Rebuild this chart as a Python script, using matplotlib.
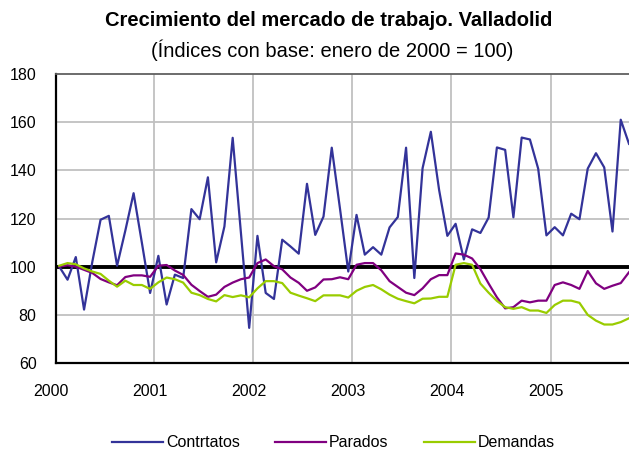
import matplotlib
matplotlib.use("Agg")
import matplotlib.pyplot as plt
import numpy as np

plt.rcParams['font.family'] = ['Liberation Sans', 'DejaVu Sans']

# monthly index, january 2000 = 100 (jan 2000 .. oct 2005)
contratos = [100, 94.6, 104, 82.2, 102, 119.5, 121.1, 100.4, 115, 130.5, 110, 89.1,
             104.5, 84.3, 96.7, 95.3, 123.9, 119.7, 137.1, 101.8, 116.7, 153.5, 114, 74.6,
             112.8, 89.1, 86.6, 111.2, 108.4, 105.4, 134.4, 113.2, 120.8, 149.4, 124, 98,
             121.5, 105, 108.1, 105, 116.3, 120.6, 149.4, 95.3, 140.9, 156, 131.9, 112.8,
             117.8, 103, 115.5, 114, 120.4, 149.5, 148.5, 120.5, 153.6, 152.8, 140.7, 113,
             116.4, 113, 122, 119.7, 140.7, 147.1, 141.2, 114.6, 161, 151]
parados = [100, 100.6, 100, 98.7, 97.4, 94.9, 93.5, 92.3, 95.7, 96.4, 96.4, 95.8,
           100.4, 100.7, 98.4, 96.6, 92.5, 89.9, 87.5, 88.4, 91.6, 93.4, 94.8, 95.5,
           101.5, 103, 100.2, 98.9, 95.5, 93.3, 90, 91.4, 94.7, 94.8, 95.6, 94.8,
           100.8, 101.5, 101.5, 98.5, 94, 91.6, 89.2, 88.2, 91, 94.8, 96.5, 96.5,
           105.5, 105, 103.4, 99, 93, 87.3, 82.7, 83.2, 85.9, 85.2, 85.9, 85.9,
           92.4, 93.5, 92.4, 90.8, 98.2, 93.1, 90.8, 92.1, 93.2, 97.7]
demandas = [100.4, 101.5, 101, 99.3, 98, 97, 94.2, 91.7, 94.2, 92.4, 92.4, 90.8,
            93.5, 95.5, 94.8, 93.4, 89.2, 88.2, 86.6, 85.6, 88.2, 87.4, 88.1, 87.3,
            91, 94, 94, 93.2, 89.2, 88, 86.9, 85.7, 88.1, 88.1, 88.1, 87.2,
            90, 91.6, 92.4, 90.6, 88.4, 86.7, 85.7, 84.8, 86.7, 86.8, 87.5, 87.5,
            100.8, 101.5, 100.8, 93, 89.2, 85.8, 83.2, 82.5, 83.2, 81.8, 81.8, 80.8,
            84.1, 85.9, 85.9, 85, 80, 77.6, 76, 76, 77, 78.6]
years = ['2000', '2001', '2002', '2003', '2004', '2005']
y_ticks = [60, 80, 100, 120, 140, 160, 180]

fig = plt.figure(figsize=(6.29, 4.51), dpi=100)
ax = fig.add_axes([0.089, 0.195, 0.911, 0.641])

x = np.arange(len(contratos))

# grid
for v in y_ticks:
    if v not in (60, 100, 180):
        ax.axhline(v, color='#C0C0C0', lw=1.3, zorder=1)
for k in range(1, len(years)):
    ax.axvline(12 * k - 0.5, color='#C0C0C0', lw=1.3, zorder=1)

ax.axhline(100, color='black', lw=2.8, zorder=2)

ax.plot(x, contratos, color='#333399', lw=1.6, label='Contrtatos', zorder=3)
ax.plot(x, parados, color='#800080', lw=1.6, label='Parados', zorder=3)
ax.plot(x, demandas, color='#99CC00', lw=1.6, label='Demandas', zorder=3)

ax.set_xlim(-0.4, 69.0)
ax.set_ylim(60, 180)
ax.set_yticks(y_ticks)
ax.set_xticks([])
ax.tick_params(axis='y', length=0, pad=14, labelsize=11.5)

for k, yr in enumerate(years):
    ax.text(12 * k - 1.0, -0.1, yr, transform=ax.get_xaxis_transform(),
            ha='center', va='center', fontsize=11.5, clip_on=False)

ax.spines['right'].set_visible(False)
ax.spines['top'].set_color('#606060')
ax.spines['top'].set_linewidth(1.3)
ax.spines['left'].set_linewidth(1.6)
ax.spines['bottom'].set_linewidth(1.6)

fig.text(0.523, 0.955, 'Crecimiento del mercado de trabajo. Valladolid',
         ha='center', va='center', fontsize=14.5, fontweight='bold')
fig.text(0.528, 0.888, '(Índices con base: enero de 2000 = 100)',
         ha='center', va='center', fontsize=14.5)

fig.legend(loc='center', bbox_to_anchor=(0.53, 0.018), ncol=3, frameon=False,
           fontsize=11.5, handlelength=3.2, columnspacing=2.2, handletextpad=0.2)

fig.savefig('out.png', dpi=100)
